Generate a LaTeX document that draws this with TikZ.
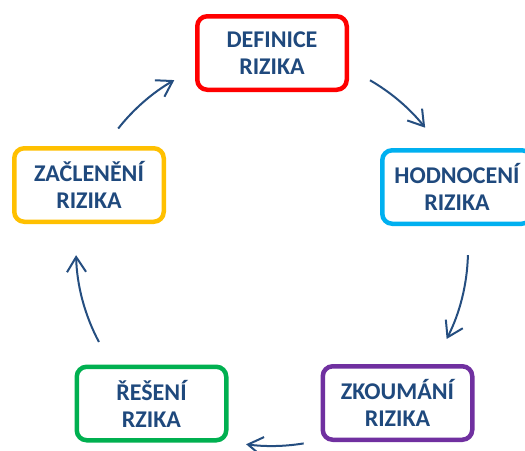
\documentclass[tikz,border=0pt]{standalone}
\usepackage{fontspec}
\setmainfont{Carlito}
\usetikzlibrary{arrows.meta}
\definecolor{txtblue}{HTML}{1F497D}
\definecolor{arrowblue}{HTML}{254E80}
\definecolor{boxred}{HTML}{FF0000}
\definecolor{boxcyan}{HTML}{00B0F0}
\definecolor{boxpurple}{HTML}{7030A0}
\definecolor{boxgreen}{HTML}{00B050}
\definecolor{boxyellow}{HTML}{FFC000}
\begin{document}
\begin{tikzpicture}[x=1pt,y=-1pt,
  stage/.style={draw, line width=4.5pt, rounded corners=10pt,
    minimum width=149.5pt, minimum height=73.5pt, align=center,
    font=\bfseries\fontsize{24}{27}\selectfont, text=txtblue, fill=white},
  cyc/.style={draw=arrowblue, line width=2pt,
    -{Straight Barb[length=15pt,width=19pt]}}]
\useasboundingbox (0,0) rectangle (525,450);

% the five stages of the cycle
\node[stage, draw=boxred]    (def)  at (272,53)    {DEFINICE\\RIZIKA};
\node[stage, draw=boxcyan]   (hod)  at (457,187)   {HODNOCENÍ\\RIZIKA};
\node[stage, draw=boxpurple] (zko)  at (397.5,403) {ZKOUMÁNÍ\\RIZIKA};
\node[stage, draw=boxgreen]  (res)  at (151.5,403.5) {ŘEŠENÍ\\RZIKA};
\node[stage, draw=boxyellow] (zac)  at (89,185)    {ZAČLENĚNÍ\\RIZIKA};

% curved arrows on a common circle
\coordinate (hub) at (272,250);
\path (hub) ++(-60:196)   coordinate (a1);
\path (hub) ++(1.5:196)   coordinate (a2);
\path (hub) ++(80.7:196)  coordinate (a3);
\path (hub) ++(152:196)   coordinate (a4);
\path (hub) ++(218.3:196) coordinate (a5);

\draw[cyc] (a1) arc[start angle=-60,   end angle=-38.6, radius=196];
\draw[cyc] (a2) arc[start angle=1.5,   end angle=27,    radius=196];
\draw[cyc] (a3) arc[start angle=80.7,  end angle=97.6,  radius=196];
\draw[cyc] (a4) arc[start angle=152,   end angle=178.5, radius=196];
\draw[cyc] (a5) arc[start angle=218.3, end angle=240.1, radius=196];
\end{tikzpicture}
\end{document}
